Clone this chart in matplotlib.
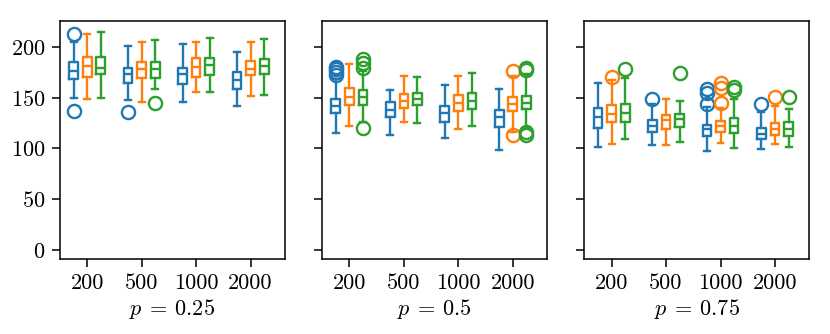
import numpy as np
import matplotlib.pyplot as plt

plt.rcParams['font.family'] = 'serif'
plt.rcParams['font.serif'] = ['cmr10', 'DejaVu Serif']
plt.rcParams['mathtext.fontset'] = 'cm'
plt.rcParams['axes.formatter.use_mathtext'] = True
plt.rcParams['font.size'] = 16

sizes = ['200', '500', '1000', '2000']
probs = ['0.25', '0.5', '0.75']
colors = ['#1f77b4', '#ff7f0e', '#2ca02c']

# rows: series (blue, orange, green); columns: sample sizes
# p = 0.25
lo_025 = [[149.4, 147.8, 145.5, 141.9], [148.5, 146.1, 156.0, 151.4], [150.1, 158.6, 156.0, 152.7]]
q1_025 = [[168.2, 164.5, 163.2, 158.6], [170.7, 169.8, 170.1, 172.1], [173.4, 169.8, 172.1, 173.4]]
med_025 = [[176.4, 173.4, 173.4, 167.5], [181.6, 178.3, 180.3, 178.6], [179.0, 178.3, 182.0, 181.3]]
q3_025 = [[184.9, 179.6, 179.6, 175.4], [190.1, 185.2, 188.9, 185.9], [189.8, 185.5, 189.5, 187.9]]
hi_025 = [[205.0, 201.0, 202.6, 194.8], [212.5, 205.3, 204.9, 204.9], [214.4, 206.9, 208.4, 207.9]]
fl_025 = [[[212.8, 137.2], [136.3], [], []], [[], [], [], []], [[], [144.5], [], []]]

# p = 0.5
lo_05 = [[115.6, 113.6, 110.0, 98.2], [122.5, 126.4, 118.9, 116.6], [126.0, 125.1, 122.2, 119.9]]
q1_05 = [[134.7, 130.7, 125.8, 121.5], [142.6, 140.2, 136.9, 136.9], [142.6, 143.2, 138.9, 138.6]]
med_05 = [[141.9, 137.9, 134.7, 131.4], [151.1, 147.1, 144.5, 143.8], [150.5, 148.8, 146.8, 144.5]]
q3_05 = [[148.8, 145.5, 141.9, 137.9], [160.0, 153.7, 152.7, 151.1], [157.3, 155.0, 155.0, 151.7]]
hi_05 = [[168.0, 157.6, 162.9, 158.9], [182.9, 171.4, 171.4, 171.4], [176.0, 170.1, 174.0, 173.0]]
fl_05 = [[[172.0, 175.0, 178.0, 180.0], [], [], []],
         [[], [], [], [176.4, 113.0]],
         [[179.0, 184.0, 187.9, 120.0], [], [], [177.5, 179.0, 116.6, 113.6]]]

# p = 0.75
lo_075 = [[101.2, 103.1, 97.2, 99.5], [104.8, 103.7, 105.4, 104.0], [109.0, 106.7, 100.5, 101.0]]
q1_075 = [[120.5, 116.6, 112.3, 109.7], [125.8, 119.5, 116.3, 113.6], [126.4, 121.5, 115.6, 112.6]]
med_075 = [[130.7, 122.5, 118.9, 114.6], [133.7, 128.1, 122.5, 119.5], [134.7, 128.8, 122.2, 119.5]]
q3_075 = [[139.6, 128.1, 123.5, 120.5], [142.9, 133.3, 127.4, 124.8], [144.1, 134.0, 129.7, 126.4]]
hi_075 = [[164.8, 143.8, 140.6, 135.6], [167.5, 148.5, 140.0, 141.9], [169.2, 147.1, 148.5, 139.2]]
fl_075 = [[[], [149.1], [158.6, 154.4, 143.8], [144.1]],
          [[170.1], [], [164.2, 160.0, 145.1], [150.5]],
          [[178.3], [174.0], [160.3, 157.6], [150.5]]]

panels = [
    (lo_025, q1_025, med_025, q3_025, hi_025, fl_025),
    (lo_05, q1_05, med_05, q3_05, hi_05, fl_05),
    (lo_075, q1_075, med_075, q3_075, hi_075, fl_075),
]

fig, axes = plt.subplots(1, 3, figsize=(8.3, 3.34), dpi=100, sharey=True)
fig.subplots_adjust(left=0.0723, right=0.975, bottom=0.224, top=0.938, wspace=0.166)

base = np.arange(1, len(sizes) + 1)
offsets = [-0.25, 0.0, 0.25]

for ax, p, (lo, q1, med, q3, hi, fl) in zip(axes, probs, panels):
    for s in range(3):
        stats = []
        for i in range(len(sizes)):
            stats.append(dict(whislo=lo[s][i], q1=q1[s][i], med=med[s][i],
                              q3=q3[s][i], whishi=hi[s][i], fliers=fl[s][i]))
        c = colors[s]
        lw = 1.7
        ax.bxp(stats, positions=base + offsets[s], widths=0.16, capwidths=0.11,
               showfliers=True, manage_ticks=False,
               boxprops=dict(color=c, linewidth=lw),
               whiskerprops=dict(color=c, linewidth=lw),
               capprops=dict(color=c, linewidth=lw),
               medianprops=dict(color=c, linewidth=lw),
               flierprops=dict(marker='o', markerfacecolor='none',
                               markeredgecolor=c, markersize=9.5, markeredgewidth=1.7))
    ax.set_xticks(base)
    ax.set_xticklabels(sizes)
    ax.set_xlim(0.5, 4.63)
    ax.set_xlabel(r'$p\:=\:%s$' % p, labelpad=3)
    ax.tick_params(length=5.5, width=1.1, pad=5)
    for sp in ax.spines.values():
        sp.set_linewidth(1.1)

axes[0].set_ylim(-9.2, 225.9)
axes[0].set_yticks([0, 50, 100, 150, 200])

fig.savefig('out.png', dpi=100)
